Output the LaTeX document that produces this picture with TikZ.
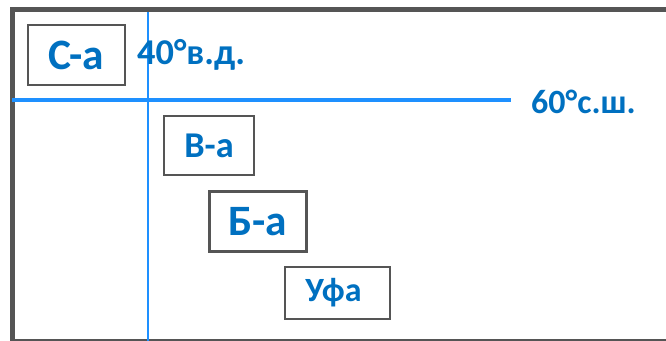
\documentclass[tikz,border=0pt]{standalone}
\usepackage{fontspec}
\setmainfont{Carlito}
\usetikzlibrary{positioning}
\definecolor{txtblue}{HTML}{0070C0}
\definecolor{lineblue}{HTML}{1E90FF}
\definecolor{framegray}{HTML}{555555}

\begin{document}
\begin{tikzpicture}[x=0.03cm,y=-0.03cm,
  city/.style={draw=framegray, line width=1.7pt, text=txtblue, font=\bfseries, inner sep=0pt},
  lbl/.style={text=txtblue, font=\bfseries\fontsize{31}{31}\selectfont, inner sep=0pt}]
\useasboundingbox (0,0) rectangle (666,341);
% frame
\draw[framegray, line width=4.6pt] (666,9.5) -- (12.5,9.5) -- (12.5,341);
\draw[framegray, line width=1.6pt] (12.5,340.3) -- (666,340.3);
% meridian and parallel
\draw[lineblue, line width=2.8pt] (12,100) -- (511,100);
\draw[lineblue, line width=2pt] (148,12) -- (148,341);
\node[lbl, anchor=west] (mer) at (137,55) {40°в.д.};
\node[lbl, anchor=west, font=\bfseries\fontsize{29}{29}\selectfont] (par) at (531,102) {60°с.ш.};
% cities
\node[city, minimum width=2.91cm, minimum height=1.8cm, font=\bfseries\fontsize{37}{37}\selectfont] (sa) at (76.5,55) {С-а};
\node[city, minimum width=2.7cm, minimum height=1.77cm, font=\bfseries\fontsize{31}{31}\selectfont] (va) at (209,145.5) {В-а};
\node[city, line width=2.5pt, minimum width=2.91cm, minimum height=1.8cm, font=\bfseries\fontsize{37}{37}\selectfont] (ba) at (258,221.5) {Б-а};
\node[city, minimum width=3.15cm, minimum height=1.56cm, font=\bfseries\fontsize{29}{29}\selectfont] (ufa) at (337.5,293) {Уфа\kern0.24cm};
\end{tikzpicture}
\end{document}
